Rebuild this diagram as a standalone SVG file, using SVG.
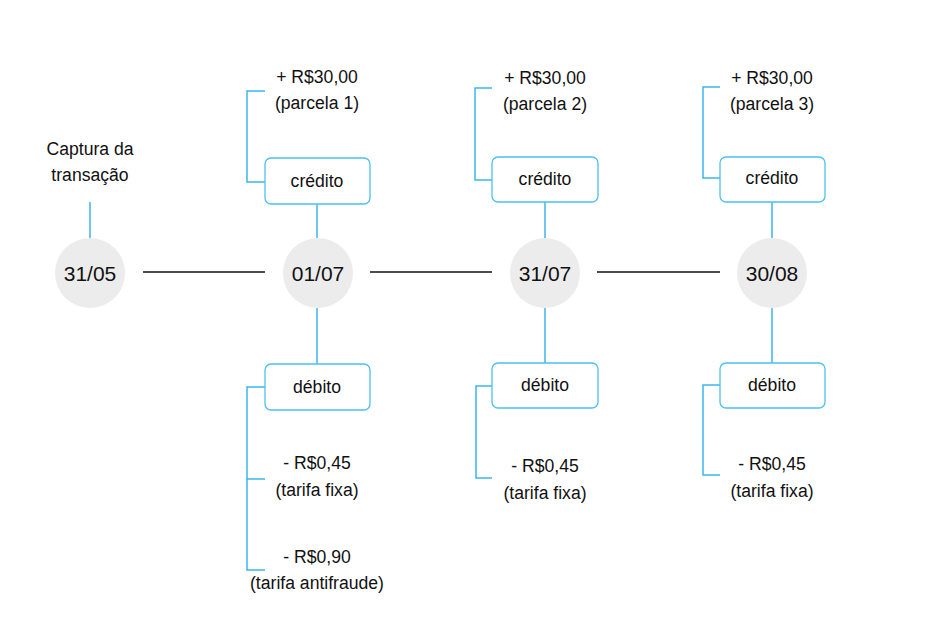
<svg xmlns="http://www.w3.org/2000/svg" width="935" height="632" viewBox="0 0 935 632">
  <style>
    text { font-family: "Liberation Sans", Arial, sans-serif; fill: #111; text-anchor: middle; }
    .lbl { font-size: 17.6px; }
    .date { font-size: 21px; }
    .day { fill: #ececec; }
    .box { fill: #fff; stroke: #4cc0f2; stroke-width: 1.3; }
    .blue { fill: none; stroke: #3bb6ec; stroke-width: 1.5; }
    .axis { fill: none; stroke: #111; stroke-width: 1.5; }
  </style>
  <rect width="935" height="632" fill="#fff"/>

  <!-- connectors -->
  <g id="connectors">
    <!-- timeline -->
    <line class="axis" x1="143" y1="272" x2="265" y2="272"/>
    <line class="axis" x1="370" y1="272" x2="492" y2="272"/>
    <line class="axis" x1="597" y1="272" x2="720" y2="272"/>
    <!-- stems -->
    <line class="blue" x1="90" y1="202" x2="90" y2="238"/>
    <line class="blue" x1="317" y1="204" x2="317" y2="238"/>
    <line class="blue" x1="317" y1="308" x2="317" y2="364"/>
    <line class="blue" x1="545" y1="202" x2="545" y2="238"/>
    <line class="blue" x1="545" y1="308" x2="545" y2="363"/>
    <line class="blue" x1="772" y1="202" x2="772" y2="238"/>
    <line class="blue" x1="772" y1="308" x2="772" y2="363"/>
    <!-- brackets -->
    <polyline class="blue" points="265,91 247,91 247,182 265,182"/>
    <polyline class="blue" points="492,88 475,88 475,180 492,180"/>
    <polyline class="blue" points="720,87 703,87 703,178 720,178"/>
    <polyline class="blue" points="265,387 247,387 247,570 265,570"/>
    <line class="blue" x1="247" y1="479" x2="265" y2="479"/>
    <polyline class="blue" points="492,386 476,386 476,478 492,478"/>
    <polyline class="blue" points="720,385 703,385 703,475 720,475"/>
  </g>

  <!-- capture date -->
  <g id="d3105">
    <text class="lbl" x="90" y="155">Captura da</text>
    <text class="lbl" x="90" y="181">transação</text>
    <circle class="day" cx="90" cy="273" r="35"/>
    <text class="date" x="90" y="281">31/05</text>
  </g>

  <!-- 01/07 -->
  <g id="d0107">
    <circle class="day" cx="318" cy="273" r="35"/>
    <text class="date" x="318" y="281">01/07</text>
  </g>
  <g id="cred1">
    <rect class="box" x="265" y="158" width="105" height="46" rx="6"/>
    <text class="lbl" x="317" y="187">crédito</text>
  </g>
  <g id="parc1">
    <text class="lbl" x="317" y="83">+ R$30,00</text>
    <text class="lbl" x="317" y="109">(parcela 1)</text>
  </g>
  <g id="deb1">
    <rect class="box" x="265" y="364" width="105" height="46" rx="6"/>
    <text class="lbl" x="317" y="393">débito</text>
  </g>
  <g id="fixa1">
    <text class="lbl" x="317" y="469">- R$0,45</text>
    <text class="lbl" x="317" y="496">(tarifa fixa)</text>
  </g>
  <g id="antifraude1">
    <text class="lbl" x="317" y="563">- R$0,90</text>
    <text class="lbl" x="317" y="589">(tarifa antifraude)</text>
  </g>

  <!-- 31/07 -->
  <g id="d3107">
    <circle class="day" cx="545" cy="273" r="35"/>
    <text class="date" x="545" y="281">31/07</text>
  </g>
  <g id="cred2">
    <rect class="box" x="492" y="157" width="106" height="45" rx="6"/>
    <text class="lbl" x="545" y="185">crédito</text>
  </g>
  <g id="parc2">
    <text class="lbl" x="545" y="84">+ R$30,00</text>
    <text class="lbl" x="545" y="110">(parcela 2)</text>
  </g>
  <g id="deb2">
    <rect class="box" x="492" y="363" width="106" height="45" rx="6"/>
    <text class="lbl" x="545" y="391">débito</text>
  </g>
  <g id="fixa2">
    <text class="lbl" x="545" y="472">- R$0,45</text>
    <text class="lbl" x="545" y="499">(tarifa fixa)</text>
  </g>

  <!-- 30/08 -->
  <g id="d3008">
    <circle class="day" cx="772" cy="273" r="35"/>
    <text class="date" x="772" y="281">30/08</text>
  </g>
  <g id="cred3">
    <rect class="box" x="720" y="157" width="105" height="45" rx="6"/>
    <text class="lbl" x="772" y="184">crédito</text>
  </g>
  <g id="parc3">
    <text class="lbl" x="772" y="84">+ R$30,00</text>
    <text class="lbl" x="772" y="110">(parcela 3)</text>
  </g>
  <g id="deb3">
    <rect class="box" x="720" y="363" width="105" height="45" rx="6"/>
    <text class="lbl" x="772" y="391">débito</text>
  </g>
  <g id="fixa3">
    <text class="lbl" x="772" y="470">- R$0,45</text>
    <text class="lbl" x="772" y="497">(tarifa fixa)</text>
  </g>
</svg>
